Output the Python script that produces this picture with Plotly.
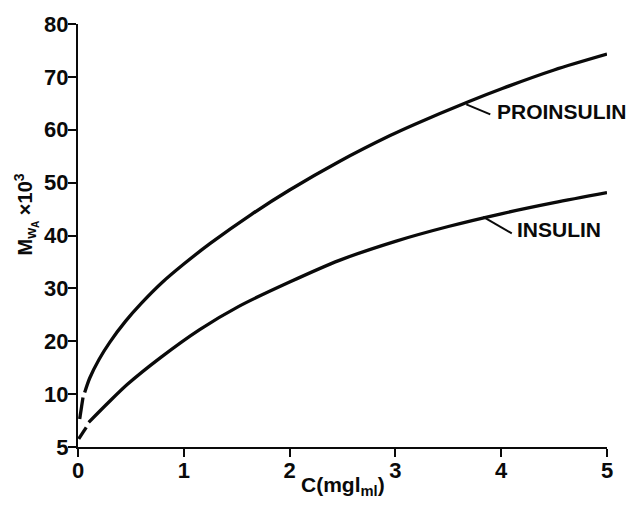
import numpy as np
import plotly.graph_objects as go

# Weight-average molecular weight (x 10^3) versus concentration C (mg/ml)
proinsulin_c = [0.063, 0.11, 0.2, 0.3, 0.45, 0.6, 0.8, 1.0, 1.25, 1.64, 2.0,
                2.47, 2.95, 3.18, 3.69, 4.01, 4.5, 5.0]
proinsulin_mw = [10.3, 13.0, 16.6, 19.8, 23.8, 27.2, 31.2, 34.6, 38.5, 44.0, 48.6,
                 54.0, 58.9, 61.0, 65.3, 67.8, 71.3, 74.3]
# extrapolated (dashed) stretch toward zero concentration
proinsulin_ext_c = [0.016, 0.047]
proinsulin_ext_mw = [7.65, 9.68]

insulin_c = [0.101, 0.29, 0.47, 0.78, 1.15, 1.52, 2.0, 2.47, 3.0, 3.5, 4.0, 4.5, 5.0]
insulin_mw = [7.33, 9.23, 11.9, 16.9, 22.2, 26.6, 31.2, 35.3, 38.9, 41.7, 44.1, 46.2, 48.1]
insulin_ext_c = [0.007, 0.078]
insulin_ext_mw = [5.77, 6.86]

x_ticks = [0, 1, 2, 3, 4, 5]
y_ticks = [5, 10, 20, 30, 40, 50, 60, 70, 80]


def axis_pos(v):
    """The value axis is broken below 10: the 5-10 span takes one full 10-unit step."""
    v = np.asarray(v, dtype=float)
    return np.where(v < 10, (v - 5) * 2, v)


FONT = "Liberation Sans, Arial, sans-serif"
INK = "#0a0a0a"

fig = go.Figure()

for cs, ms in [(proinsulin_ext_c, proinsulin_ext_mw), (proinsulin_c, proinsulin_mw),
               (insulin_ext_c, insulin_ext_mw), (insulin_c, insulin_mw)]:
    fig.add_trace(go.Scatter(
        x=cs, y=axis_pos(ms), mode="lines",
        line=dict(color=INK, width=3.3, shape="spline", smoothing=0.8),
        hoverinfo="skip", showlegend=False, cliponaxis=False,
    ))

# curve labels with short leader strokes
labels = [
    ("PROINSULIN", 3.67, 64.8, 3.897, 62.9, 3.94, 63.5),
    ("INSULIN", 3.83, 43.5, 4.10, 40.4, 4.13, 41.1),
]
for text, x0, y0, x1, y1, tx, ty in labels:
    fig.add_shape(type="line", xref="x", yref="y", x0=x0, y0=y0, x1=x1, y1=y1,
                  line=dict(color=INK, width=2))
    fig.add_annotation(x=tx, y=ty, xref="x", yref="y", text=text, showarrow=False,
                       xanchor="left", yanchor="middle",
                       font=dict(family=FONT, size=21, color=INK, weight="bold"))

# axis titles
fig.add_annotation(x=-0.098, y=0.55, xref="paper", yref="paper",
                   text=("M<sub>w<span style='font-size:10px;baseline-shift:-3px'>A</span></sub>"
                         " ×10<sup>3</sup>"),
                   textangle=-90,
                   showarrow=False, xanchor="center", yanchor="middle",
                   font=dict(family=FONT, size=20, color=INK, weight="bold"))
fig.add_annotation(x=0.5, y=-0.057, xref="paper", yref="paper",
                   text="C(mgl<sub>ml</sub>)", showarrow=False,
                   xanchor="center", yanchor="top",
                   font=dict(family=FONT, size=21, color=INK, weight="bold"))

axis_common = dict(showline=True, linecolor=INK, linewidth=2, ticks="outside",
                   ticklen=8, tickwidth=2, tickcolor=INK, showgrid=False,
                   zeroline=False,
                   tickfont=dict(family=FONT, size=22, color=INK, weight="bold"))

fig.update_xaxes(range=[0, 5], tickvals=x_ticks, ticklabelstandoff=-5,
                 ticktext=[str(t) for t in x_ticks], **axis_common)
fig.update_yaxes(range=[0, 80], tickvals=axis_pos(y_ticks).tolist(),
                 ticklabelstandoff=-5,
                 ticktext=[str(t) for t in y_ticks], **axis_common)

fig.update_layout(
    width=627, height=508,
    margin=dict(l=78, r=20, t=22, b=61, pad=0),
    paper_bgcolor="white", plot_bgcolor="white",
)

fig.write_html("out.html")
